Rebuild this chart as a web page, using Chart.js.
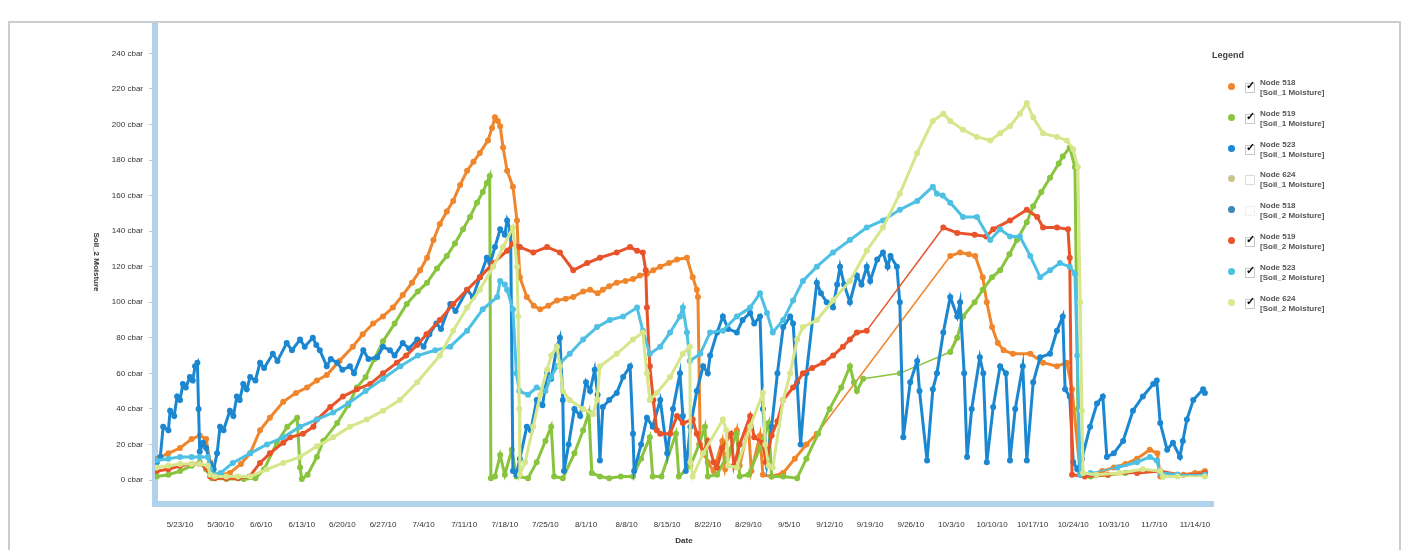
<!DOCTYPE html>
<html>
<head>
<meta charset="utf-8">
<script src="https://cdn.jsdelivr.net/npm/chart.js@4.4.1/dist/chart.umd.min.js"></script>
<style>
  html, body { margin:0; padding:0; background:#fff; width:1407px; height:550px; overflow:hidden; }
  #wrap { position:relative; width:1407px; height:550px; }
  canvas { position:absolute; left:0; top:0; }
  #frame { position:absolute; left:8px; top:21px; width:1389px; height:560px; border:2px solid #cdcdcd; pointer-events:none; }
  #ytitle { position:absolute; left:96px; top:262px; transform:translate(-50%,-50%) rotate(90deg); font:bold 8px "Liberation Sans", Arial, sans-serif; color:#333; white-space:nowrap; }
  #legend { position:absolute; left:1205px; top:50px; font-family:"Liberation Sans", Arial, sans-serif; color:#444; }
  #legend .ttl { position:absolute; left:7px; top:0px; font-weight:bold; font-size:9px; color:#444; white-space:nowrap; }
  .item { position:absolute; left:0; width:200px; height:30px; }
  .dot { position:absolute; left:23px; width:7px; height:7px; border-radius:50%; }
  .box { position:absolute; left:40px; width:8px; height:8px; border:1px solid #c8c8c8; background:#fff; }
  .chk { position:absolute; left:41px; font-size:11px; font-weight:bold; color:#111; line-height:11px; }
  .l1, .l2 { position:absolute; left:55px; font-size:8px; font-weight:bold; white-space:nowrap; line-height:9px; color:#555; }
</style>
</head>
<body>
<div id="wrap">
  <canvas id="c" width="1407" height="550"></canvas>
  <div id="frame"></div>
  <div id="ytitle">Soil_2 Moisture</div>
  <div id="legend"><div class="ttl">Legend</div></div>
</div>
<script>
// ---- axis labels (x = days since 5/23/10) ----
const weekLabels = ['5/23/10','5/30/10','6/6/10','6/13/10','6/20/10','6/27/10','7/4/10','7/11/10','7/18/10','7/25/10','8/1/10','8/8/10','8/15/10','8/22/10','8/29/10','9/5/10','9/12/10','9/19/10','9/26/10','10/3/10','10/10/10','10/17/10','10/24/10','10/31/10','11/7/10','11/14/10'];
const weekDays = [0,7,14,21,28,35,42,49,56,63,70,77,84,91,98,105,112,119,126,133,140,147,154,161,168,175];
const yTickValues = [0,20,40,60,80,100,120,140,160,180,200,220,240];

// ---- legend ----
const legendNodes = ['Node 518','Node 519','Node 523','Node 624','Node 518','Node 519','Node 523','Node 624'];
const legendSensors = ['[Soil_1 Moisture]','[Soil_1 Moisture]','[Soil_1 Moisture]','[Soil_1 Moisture]','[Soil_2 Moisture]','[Soil_2 Moisture]','[Soil_2 Moisture]','[Soil_2 Moisture]'];
const legendColors = ['#f0862c','#8cc540','#1b8ad4','#c9c48f','#3a87b8','#e8552b','#4bc2e2','#dde78e'];
const legendChecked = [true,true,true,false,false,true,true,true];

// ---- series: [day, cbar] ----
const node518Soil1 = [[-4,12],[-2,15],[0,18],[2,23],[3.4,25],[4.5,23],[5.2,10],[5.5,4],[7,3],[8.6,4],[10.5,9],[12.1,15],[13.8,28],[15.5,35],[17.8,44],[20,49],[21.9,52],[23.6,56],[25.3,59],[27.5,67],[29.8,75],[31.5,82],[33.3,88],[35,92],[36.7,97],[38.4,104],[40,111],[41.4,118],[42.6,125],[43.7,135],[44.8,144],[46,151],[47.1,157],[48.3,166],[49.5,174],[50.6,179],[51.7,184],[53.1,191],[53.8,198],[54.3,204],[54.8,202],[55.2,199],[55.7,187],[56.4,174],[57.4,165],[58.1,146],[58.3,131],[58.6,114],[59.8,103],[61,98],[62.1,96],[63.5,98],[65,101],[66.5,102],[67.8,103],[69.5,106],[70.7,107],[72,105],[72.9,107],[74,109],[75.3,111],[76.8,112],[78.1,113],[79.3,115],[80.5,116],[81.6,118],[82.8,120],[84.3,122],[85.7,124],[87.4,125],[88.4,114],[89.1,107],[89.3,103],[89.7,20],[91,10],[92,5],[93.5,22],[94,6],[96,28],[96.5,8],[98,30],[98.5,5],[100,25],[100.5,3],[102,2],[104,4],[106,12],[108,20],[109.8,26],[132.8,126],[134.5,128],[136,127],[137.1,126],[138.4,114],[139.1,100],[140,86],[141,77],[142,73],[143.6,71],[146.6,71],[148.8,66],[151.2,64],[152.9,66],[153.8,51],[155.2,4],[157,3],[159,5],[161,7],[163,9],[165,12],[167.2,17],[168.5,15],[169,2],[171,3],[173,3],[175,4],[176.7,5]];

const node519Soil1 = [[-4,2],[-2,3],[0,5],[2,8],[3.4,10],[4.5,6],[5.5,1],[8,0.5],[11,0.5],[13,1],[14.5,6],[16.7,21],[18.5,30],[20.2,35],[20.7,7],[21,0.5],[22,3],[23.6,13],[24.7,22],[27.1,32],[29,42],[30.5,52],[32,58],[33.5,68],[35,78],[37,88],[39.1,99],[41,106],[42.6,111],[44.3,119],[46,126],[47.4,133],[48.8,141],[50,148],[51.2,156],[52.2,162],[52.9,167],[53.4,171],[53.6,1],[54.3,2],[55.2,14],[56,3],[57.2,17],[58,2],[60,1],[61.5,10],[63,22],[64,30],[64.5,2],[66,1],[68,15],[69.5,28],[70.5,38],[71,4],[72.4,2],[74,1],[76,2],[78.1,2],[79.5,12],[81,24],[81.5,2],[83,2],[85.5,26],[86,2],[88,8],[89.5,20],[90.5,30],[91,2],[92.6,3],[94.5,15],[96,26],[96.5,2],[98,3],[100,18],[101.5,32],[102,2],[104,2],[106.4,1],[108,12],[110,26],[112,40],[114,52],[115.5,64],[116.2,55],[116.7,50],[117.8,57],[124.1,60],[132.8,72],[134,80],[135,92],[137,100],[138.4,107],[140,114],[141.4,118],[143,127],[144.3,135],[146,145],[147.1,154],[148.5,162],[150,170],[151.5,178],[152.2,182],[153.4,187],[154.3,176],[154.8,40],[155.2,3],[157,2],[160,3],[163,4],[166,5],[169,5],[169.5,2],[172,3],[176.7,3]];

const node523Soil1 = [[-4,10],[-3.4,13],[-2.9,30],[-2,28],[-1.7,39],[-1,36],[-0.5,47],[0,45],[0.5,54],[1,52],[1.7,58],[2.2,56],[2.6,64],[3,66],[3.2,40],[3.4,16],[4,21],[4.5,18],[5.2,9],[5.8,6],[6.4,15],[6.9,30],[7.5,28],[8.6,39],[9.2,36],[9.8,47],[10.3,45],[10.9,54],[11.5,51],[12.1,58],[13,56],[13.8,66],[14.5,63],[16,71],[16.8,67],[18.4,77],[19.3,73],[20.7,79],[21.5,75],[22.9,80],[23.5,76],[24.1,73],[25.3,64],[26,68],[27.1,66],[28,62],[29.3,64],[30,60],[31.6,73],[32.5,68],[34,69],[35,75],[36.2,73],[37,70],[38.4,77],[39.5,74],[40.9,79],[42,75],[43,82],[44.2,88],[45,85],[46.6,99],[47.5,95],[49.5,107],[50.5,103],[51.7,114],[52.9,125],[53.5,122],[54.3,131],[55.2,141],[56,138],[56.4,146],[57,140],[57.4,5],[58,3],[58.6,12],[59.8,30],[60.5,28],[61.5,45],[62.5,42],[63.3,60],[64,57],[65,75],[65.5,80],[66,45],[66.2,5],[67,20],[68,40],[69,36],[70,55],[70.7,50],[71.5,62],[72,48],[72.4,11],[72.9,41],[74,45],[75.3,49],[76.4,58],[77.6,64],[78.1,26],[78.3,5],[79.5,20],[80.5,35],[81.5,30],[82.8,45],[84,15],[85,40],[86.2,60],[86.7,36],[87.2,5],[88,30],[89.1,50],[90.2,64],[91,60],[91.4,70],[92.6,83],[93.6,92],[94.5,85],[96,83],[97,90],[98.3,94],[99,88],[100,92],[100.5,40],[101.2,10],[102,30],[103,60],[104,86],[105.2,92],[105.7,88],[106.4,55],[107,20],[108,60],[109.8,111],[110.5,105],[111.5,100],[112.6,97],[113.3,110],[113.8,120],[114.5,110],[115.5,100],[116.7,115],[117.5,110],[118.4,120],[119,112],[120.2,124],[121.2,128],[122,120],[122.5,126],[123.6,120],[124.1,100],[124.7,24],[125.9,55],[127.1,67],[127.5,50],[128.8,11],[129.8,51],[130.5,60],[131.6,83],[132.8,103],[134,92],[134.5,100],[135.2,60],[135.7,13],[136.5,40],[137.9,69],[138.5,60],[139.1,10],[140.2,41],[141.4,64],[142.4,60],[143.1,11],[144,40],[145.3,64],[146,11],[147.1,55],[148.3,69],[150,71],[151.2,84],[152.2,92],[152.6,51],[153.4,47],[154,10],[154.7,6],[155.5,12],[156.9,30],[158.1,43],[159.1,47],[159.8,13],[161,15],[162.6,22],[164.3,39],[166,47],[167.8,54],[168.4,56],[169,32],[170.2,17],[171.2,21],[172.4,13],[172.9,22],[173.6,34],[174.7,45],[176.4,51],[176.7,49]];

const node519Soil2 = [[-4,5],[-2,6],[0,8],[2,9],[3.4,9],[4.5,7],[5.2,2],[6,1],[8,1],[10,1],[12,2],[13.8,9.6],[15.5,15],[17.8,21],[19,24],[21.2,26],[23,30],[23.6,34],[25.9,41],[28.1,47],[30.5,51],[32.8,54],[35,60],[37.4,66],[39,70],[40.9,76],[42.5,82],[44.8,90],[47.1,99],[49.5,107],[51.7,114],[54,122],[56.4,129],[57.4,133],[58.6,131],[60.9,128],[63.3,131],[65.5,128],[67.8,118],[70.2,122],[72.4,125],[75.3,128],[77.6,131],[78.8,129],[79.8,128],[80.3,118],[80.5,97],[81,64],[81.6,45],[82.2,28],[82.8,26],[84.5,26],[85.7,36],[86.7,32],[88.4,34],[89.1,26],[90.2,15],[91,22],[92,10],[92.6,7],[93.5,18],[95,26],[95.5,8],[96.5,20],[98.3,36],[99,24],[100.5,21],[101,10],[102,25],[103,33],[104,45],[105.7,52],[107.4,60],[109,63],[110.9,66],[112.6,70],[114.3,75],[115.5,79],[116.7,83],[118.4,84],[131.6,142],[134,139],[137,138],[139,137],[140.2,141],[143.1,146],[146,152],[147.8,148],[148.8,142],[151.2,142],[153.1,141],[153.4,125],[153.8,3],[156,2],[160,3],[165,4],[169,5],[172,3],[176.7,4]];

const node523Soil2 = [[-4,11],[-2,12],[0,13],[2,13],[3.4,13],[4.8,13],[5.2,6],[5.8,3],[7,4],[9.1,9.6],[12.1,15],[15,20],[17.8,24],[20.7,30],[23.6,34],[26.4,38],[29,43],[32,50],[35,57],[38,64],[41,70],[44,73],[46.6,75],[49.5,84],[52.2,96],[54.7,103],[55.2,112],[56,110],[56.4,107],[57.4,96],[58,60],[58.5,50],[60,48],[61.5,52],[63,50],[64,58],[65,64],[67.2,71],[69.5,79],[71.9,86],[74.1,90],[76.4,92],[78.8,97],[79.8,84],[81,71],[82.8,75],[84.5,83],[86.2,92],[86.7,97],[87.4,83],[87.9,67],[89.7,71],[91.4,83],[93.6,84],[96,92],[98.3,97],[100,105],[101.2,94],[102.2,83],[104,90],[105.7,101],[107.4,112],[109.8,120],[112.6,128],[115.5,135],[118.4,142],[121.2,146],[124.1,152],[127.1,157],[129.8,165],[130.5,161],[131.5,160],[132.8,156],[135,148],[137.4,148],[139.7,135],[141.4,141],[143.1,137],[144.8,137],[146.6,126],[148.3,114],[150,118],[151.7,122],[153.4,120],[154.3,116],[154.7,70],[155.2,3],[157,4],[161.6,7],[165,10],[167.2,13],[168.4,11],[169,4],[172,3],[176.7,3]];

const node624Soil2 = [[-4,7],[-2,8],[0,9],[2,9],[3.4,9],[4.8,8],[5.2,3],[6,2],[8,2],[10,2],[12.1,2],[15,6],[17.8,9.6],[20.7,13],[23.6,19],[26.4,24],[29.3,30],[32.2,34],[35,39],[37.9,45],[40.9,55],[44.8,70],[47.1,84],[49.5,97],[51.7,107],[54,120],[55.7,131],[57.4,142],[58.1,120],[58.3,92],[58.5,40],[58.6,3],[59.5,10],[60.9,30],[62.1,48],[63.3,62],[64,70],[65,75],[65.5,64],[66,50],[67.2,45],[69.5,40],[71.2,37],[71.9,45],[72.4,64],[75.3,71],[78.1,79],[79.8,83],[80.5,60],[81,45],[82.2,49],[84.5,58],[86.7,71],[87.9,75],[88,10],[88.4,2],[90.2,15],[93.6,34],[94.2,28],[94.5,8],[96,7],[98.3,30],[100.5,49],[100.9,20],[101.5,8],[102.2,7],[104,45],[105.2,60],[106.4,79],[107.4,86],[109.8,90],[112.6,101],[115.5,112],[118.4,129],[121.2,142],[124.1,161],[127.1,184],[129.8,202],[131.6,206],[132.8,202],[135,197],[137.4,193],[139.7,191],[141.4,195],[143.1,199],[144.8,206],[146,212],[147.1,204],[148.8,195],[151.2,193],[152.9,191],[154,186],[154.8,176],[155.2,100],[155.5,39],[155.7,4],[158,3],[162,4],[166,6],[169,5],[169.5,2],[172,2],[176.7,2]];

const seriesNames = ['Node 518 [Soil_1 Moisture]','Node 519 [Soil_1 Moisture]','Node 523 [Soil_1 Moisture]','Node 519 [Soil_2 Moisture]','Node 523 [Soil_2 Moisture]','Node 624 [Soil_2 Moisture]'];
const seriesData = [node518Soil1, node519Soil1, node523Soil1, node519Soil2, node523Soil2, node624Soil2];
const seriesColors = ['#f0862c','#88c43e','#1b87d0','#e8532a','#4dc0e4','#d6e68a'];

// ---- build legend DOM ----
const lg = document.getElementById('legend');
legendNodes.forEach((n, i) => {
  const it = document.createElement('div');
  it.className = 'item';
  it.style.top = (i * 30.8 + 23) + 'px';
  let html = '<div class="dot" style="top:10px;background:' + legendColors[i] + '"></div>';
  html += '<div class="box" style="top:10px;' + (legendChecked[i] ? '' : 'border-color:' + (i === 3 ? '#ddd' : '#f0f0f0') + ';') + '"></div>';
  if (legendChecked[i]) html += '<div class="chk" style="top:7px">\u2713</div>';
  html += '<div class="l1" style="top:5px">' + n + '</div>';
  html += '<div class="l2" style="top:15px">' + legendSensors[i] + '</div>';
  it.innerHTML = html;
  lg.appendChild(it);
});

// ---- chart ----
const N = seriesData.length;
const datasets = seriesData.map((arr, i) => ({
  label: seriesNames[i],
  data: arr.map(p => ({x: p[0], y: p[1]})),
  borderColor: seriesColors[i],
  backgroundColor: seriesColors[i],
  pointBackgroundColor: seriesColors[i],
  pointBorderColor: seriesColors[i],
  pointRadius: 3,
  pointBorderWidth: 0,
  borderWidth: 3,
  tension: 0,
  fill: false,
  order: N - i,
  segment: {
    borderWidth: ctx => (ctx.p1.parsed.x - ctx.p0.parsed.x > 4 ? 1.5 : 3)
  }
}));

const tickFont = {family: '"Liberation Sans", Arial, sans-serif', size: 8};

new Chart(document.getElementById('c'), {
  type: 'line',
  data: { datasets },
  options: {
    responsive: false,
    animation: false,
    events: [],
    layout: { padding: { top: 24, right: 194, left: 0, bottom: 0 } },
    plugins: { legend: { display: false }, tooltip: { enabled: false } },
    scales: {
      x: {
        type: 'linear',
        min: -4.31, max: 178.1,
        afterBuildTicks: a => { a.ticks = weekDays.map(v => ({value: v})); },
        afterFit: s => { s.height = 46; },
        ticks: {
          autoSkip: false, maxRotation: 0, padding: 16,
          font: tickFont, color: '#333',
          callback: v => { const k = weekDays.indexOf(v); return k >= 0 ? weekLabels[k] : ''; }
        },
        grid: { drawOnChartArea: false, drawTicks: false },
        border: { display: true, color: '#b0d2ea', width: 6 },
        title: { display: true, text: 'Date', color: '#333', font: {family: '"Liberation Sans", Arial, sans-serif', size: 8, weight: 'bold'}, padding: {top: 0, bottom: 4} }
      },
      y: {
        type: 'linear',
        min: -13.5, max: 256.5,
        afterBuildTicks: a => { a.ticks = yTickValues.map(v => ({value: v})); },
        afterFit: s => { s.width = 155; },
        ticks: { padding: 6, font: tickFont, color: '#333', callback: v => v + ' cbar' },
        grid: { drawOnChartArea: false, drawTicks: true, tickLength: 6, color: '#c4c4c4' },
        border: { display: true, color: '#b0d2ea', width: 6 }
      }
    }
  }
});
</script>
</body>
</html>
